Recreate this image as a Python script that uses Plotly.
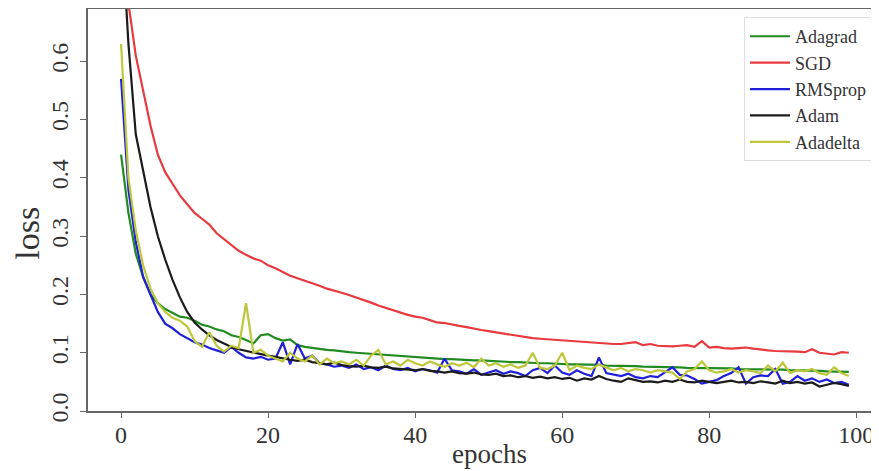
import plotly.graph_objects as go

epochs = list(range(100))

adagrad = [0.44,0.34,0.27,0.23,0.2,0.185,0.175,0.168,0.162,0.16,
0.155,0.148,0.145,0.14,0.137,0.13,0.127,0.122,0.116,0.13,
0.132,0.125,0.121,0.123,0.113,0.11,0.108,0.107,0.105,0.104,
0.102,0.101,0.1,0.099,0.098,0.097,0.096,0.096,0.094,0.093,
0.092,0.091,0.091,0.09,0.089,0.089,0.088,0.088,0.087,0.087,
0.086,0.085,0.085,0.084,0.084,0.083,0.083,0.082,0.082,0.081,
0.081,0.08,0.08,0.08,0.079,0.079,0.078,0.078,0.077,0.077,
0.077,0.076,0.076,0.076,0.075,0.075,0.075,0.074,0.074,0.074,
0.074,0.073,0.073,0.073,0.072,0.072,0.072,0.072,0.071,0.071,
0.071,0.07,0.07,0.07,0.069,0.069,0.068,0.068,0.067,0.067]

sgd = [0.85,0.70,0.61,0.55,0.49,0.44,0.41,0.39,0.37,0.355,
0.34,0.33,0.32,0.305,0.295,0.285,0.275,0.268,0.262,0.258,
0.25,0.245,0.238,0.232,0.228,0.224,0.22,0.215,0.21,0.207,
0.203,0.199,0.195,0.19,0.186,0.181,0.177,0.172,0.168,0.165,
0.162,0.16,0.156,0.152,0.151,0.148,0.146,0.144,0.141,0.139,
0.137,0.135,0.133,0.13,0.128,0.127,0.125,0.124,0.123,0.122,
0.122,0.12,0.119,0.118,0.117,0.117,0.116,0.115,0.115,0.116,
0.118,0.113,0.115,0.112,0.111,0.111,0.112,0.113,0.11,0.12,
0.109,0.11,0.108,0.107,0.108,0.109,0.107,0.105,0.104,0.103,
0.103,0.102,0.102,0.101,0.106,0.1,0.099,0.097,0.101,0.1]

rmsprop = [0.57,0.38,0.29,0.23,0.2,0.17,0.15,0.142,0.132,0.125,
0.118,0.114,0.108,0.104,0.1,0.11,0.1,0.092,0.09,0.093,
0.088,0.09,0.118,0.08,0.115,0.09,0.095,0.082,0.08,0.076,
0.078,0.074,0.08,0.072,0.075,0.07,0.078,0.072,0.07,0.074,
0.068,0.072,0.07,0.066,0.09,0.07,0.068,0.064,0.072,0.062,
0.066,0.07,0.064,0.068,0.065,0.06,0.07,0.074,0.065,0.078,
0.066,0.062,0.07,0.064,0.06,0.092,0.065,0.062,0.06,0.064,
0.058,0.056,0.06,0.058,0.066,0.075,0.062,0.061,0.055,0.047,
0.05,0.053,0.06,0.065,0.075,0.047,0.058,0.061,0.06,0.072,
0.047,0.05,0.06,0.052,0.056,0.05,0.054,0.048,0.05,0.045]

adam = [0.85,0.63,0.475,0.41,0.35,0.30,0.26,0.225,0.195,0.17,
0.152,0.14,0.13,0.122,0.116,0.11,0.106,0.103,0.1,0.097,
0.095,0.093,0.09,0.088,0.086,0.088,0.084,0.082,0.08,0.083,
0.079,0.077,0.076,0.078,0.075,0.074,0.076,0.073,0.072,0.071,
0.07,0.072,0.069,0.068,0.066,0.068,0.065,0.064,0.066,0.063,
0.062,0.064,0.06,0.061,0.058,0.06,0.057,0.059,0.056,0.058,
0.055,0.057,0.052,0.056,0.054,0.06,0.055,0.052,0.05,0.056,
0.053,0.05,0.051,0.049,0.052,0.05,0.054,0.05,0.049,0.052,
0.05,0.048,0.05,0.052,0.049,0.05,0.048,0.051,0.049,0.047,
0.052,0.048,0.05,0.047,0.049,0.042,0.045,0.048,0.046,0.043]

adadelta = [0.63,0.40,0.31,0.25,0.21,0.185,0.17,0.16,0.155,0.145,
0.12,0.11,0.135,0.112,0.102,0.112,0.108,0.185,0.1,0.105,
0.095,0.09,0.085,0.1,0.09,0.085,0.095,0.08,0.09,0.082,
0.085,0.08,0.088,0.078,0.095,0.105,0.08,0.085,0.078,0.088,
0.082,0.078,0.085,0.08,0.076,0.082,0.078,0.083,0.075,0.09,
0.078,0.082,0.076,0.08,0.074,0.078,0.1,0.074,0.072,0.078,
0.1,0.07,0.078,0.074,0.072,0.08,0.075,0.07,0.074,0.068,
0.072,0.07,0.066,0.07,0.068,0.066,0.055,0.068,0.072,0.085,
0.07,0.066,0.068,0.072,0.066,0.07,0.068,0.065,0.078,0.068,
0.083,0.065,0.07,0.068,0.072,0.065,0.062,0.075,0.065,0.06]

series = [
    ("Adagrad", adagrad, "#218a21"),
    ("SGD", sgd, "#e8393f"),
    ("RMSprop", rmsprop, "#2020d8"),
    ("Adam", adam, "#1b1b1b"),
    ("Adadelta", adadelta, "#bec63a"),
]

fig = go.Figure()
for name, vals, color in series:
    fig.add_trace(go.Scatter(x=epochs, y=vals, mode="lines", name=name,
                             line=dict(color=color, width=2.2)))

font_family = "Liberation Serif, Times New Roman, serif"

fig.update_layout(
    width=871, height=463,
    margin=dict(l=80, r=0, t=1, b=60),
    paper_bgcolor="white", plot_bgcolor="white",
    font=dict(family=font_family, color="#333333"),
    showlegend=True,
    legend=dict(x=0.9924, y=0.98, xanchor="right", yanchor="top",
                bgcolor="white", bordercolor="#dddddd", borderwidth=1,
                font=dict(size=18, family=font_family, color="#333333"),
                itemwidth=40, tracegroupgap=0),
    xaxis=dict(range=[-4.5, 103.1], tickvals=[0, 20, 40, 60, 80, 100],
               showgrid=False, zeroline=False, showline=True, mirror=True,
               linecolor="#666666", linewidth=1.5, ticks="outside", ticklen=5,
               tickcolor="#666666", tickfont=dict(size=24), automargin=False,
               ticklabelstandoff=-4),
    yaxis=dict(range=[0, 0.69], tickvals=[0, 0.1, 0.2, 0.3, 0.4, 0.5, 0.6],
               ticktext=["0.0", "0.1", "0.2", "0.3", "0.4", "0.5", "0.6"],
               tickangle=-90, ticklabelstandoff=3,
               showgrid=False, zeroline=False, showline=True,
               linecolor="#666666", linewidth=1.5, ticks="outside", ticklen=6,
               tickcolor="#666666", tickfont=dict(size=24), automargin=False),
    annotations=[
        dict(text="epochs", xref="paper", yref="paper", x=0.508, y=-0.107,
             xanchor="center", yanchor="middle", showarrow=False,
             font=dict(size=27, family=font_family, color="#333333")),
        dict(text="loss", xref="paper", yref="paper", x=-0.076, y=0.443,
             xanchor="center", yanchor="middle", showarrow=False, textangle=-90,
             font=dict(size=34, family=font_family, color="#333333")),
    ],
)

fig.write_html("out.html")
